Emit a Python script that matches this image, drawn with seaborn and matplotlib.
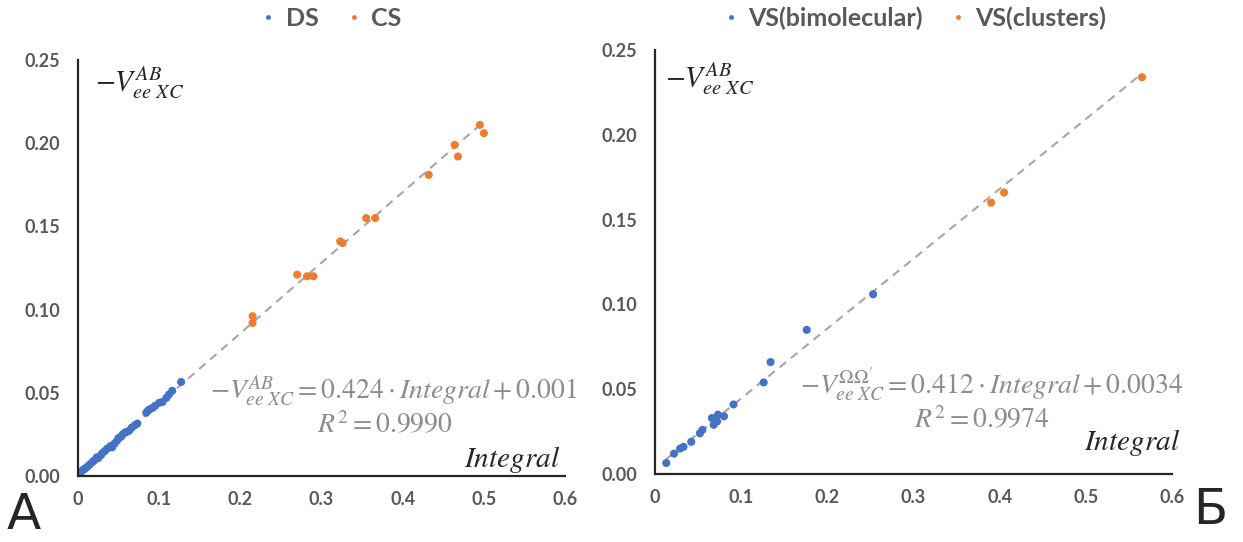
import numpy as np
import pandas as pd
import seaborn as sns
import matplotlib.pyplot as plt
from matplotlib.ticker import FuncFormatter

# Данные
ds_x = [0.002, 0.004, 0.006, 0.008, 0.010, 0.012, 0.015, 0.018, 0.020, 0.023,
        0.025, 0.028, 0.030, 0.033, 0.036, 0.040, 0.042, 0.045, 0.048, 0.050,
        0.053, 0.055, 0.058, 0.060, 0.063, 0.066, 0.070, 0.073, 0.084, 0.086,
        0.088, 0.092, 0.095, 0.100, 0.104, 0.109, 0.112, 0.116, 0.127]
ds_y = [0.0018, 0.0027, 0.0036, 0.0042, 0.0050, 0.0058, 0.0072, 0.0085, 0.0094, 0.0112,
        0.0108, 0.0125, 0.0138, 0.0150, 0.0165, 0.0180, 0.0172, 0.0195, 0.0212, 0.0228,
        0.0236, 0.0250, 0.0262, 0.0265, 0.0272, 0.0290, 0.0305, 0.0315, 0.0380, 0.0392,
        0.0400, 0.0410, 0.0422, 0.0440, 0.0445, 0.0470, 0.0490, 0.0512, 0.0565]

cs_x = [0.215, 0.215, 0.270, 0.282, 0.290, 0.323, 0.326, 0.355, 0.366, 0.432,
        0.464, 0.468, 0.495, 0.500]
cs_y = [0.096, 0.092, 0.121, 0.120, 0.120, 0.141, 0.140, 0.155, 0.155, 0.181,
        0.199, 0.192, 0.211, 0.206]

bim_x = [0.013, 0.022, 0.029, 0.033, 0.042, 0.052, 0.055, 0.066, 0.068, 0.072,
         0.073, 0.080, 0.091, 0.126, 0.134, 0.176, 0.253]
bim_y = [0.0065, 0.012, 0.015, 0.016, 0.019, 0.024, 0.026, 0.033, 0.029, 0.031,
         0.035, 0.034, 0.041, 0.054, 0.066, 0.085, 0.106]

clu_x = [0.390, 0.405, 0.565]
clu_y = [0.160, 0.166, 0.234]

# Коэффициенты линий тренда (из подписей)
fit_a = (0.424, 0.001)
fit_b = (0.412, 0.0034)

blue = '#4472C4'
orange = '#ED7D31'
grey = '#595959'
eq_grey = '#8C8C8C'

sns.set_style('white')
plt.rcParams['font.family'] = ['Lato', 'DejaVu Sans']
plt.rcParams['mathtext.fontset'] = 'stix'

df_a = pd.DataFrame({'x': ds_x + cs_x, 'y': ds_y + cs_y,
                     'g': ['DS'] * len(ds_x) + ['CS'] * len(cs_x)})
df_b = pd.DataFrame({'x': bim_x + clu_x, 'y': bim_y + clu_y,
                     'g': ['VS(bimolecular)'] * len(bim_x) + ['VS(clusters)'] * len(clu_x)})

fig = plt.figure(figsize=(12.43, 5.42), dpi=100)
ax1 = fig.add_axes([0.0628, 0.1218, 0.3918, 0.7675])
ax2 = fig.add_axes([0.527, 0.1255, 0.416, 0.782])


def style_axis(ax):
    ax.set_xlim(0, 0.6)
    ax.set_ylim(0, 0.25)
    ax.set_xticks(np.arange(0, 0.61, 0.1))
    ax.set_yticks(np.arange(0, 0.26, 0.05))
    ax.xaxis.set_major_formatter(FuncFormatter(lambda v, p: '0' if abs(v) < 1e-9 else f'{v:.1f}'))
    ax.yaxis.set_major_formatter(FuncFormatter(lambda v, p: f'{v:.2f}'))
    for s in ['top', 'right']:
        ax.spines[s].set_visible(False)
    for s in ['left', 'bottom']:
        ax.spines[s].set_color('#262626')
        ax.spines[s].set_linewidth(1.6)
    ax.tick_params(length=0, labelsize=13, labelcolor=grey)
    ax.tick_params(axis='x', pad=11)
    ax.tick_params(axis='y', pad=13)
    for lab in ax.get_xticklabels() + ax.get_yticklabels():
        lab.set_fontweight('bold')
    ax.set_xlabel('')
    ax.set_ylabel('')


def add_legend(ax, x, y):
    h, l = ax.get_legend_handles_labels()
    ax.legend(h, l, loc='center', bbox_to_anchor=(x, y), ncol=2, frameon=False,
              markerscale=0.6, handlelength=0.8, handletextpad=0.3, columnspacing=1.0,
              prop={'weight': 'bold', 'size': 18}, labelcolor=grey)


# Панель А
xa = np.array([0, max(cs_x)])
ax1.plot(xa, fit_a[0] * xa + fit_a[1], ls=(0, (4, 3)), color='#A6A6A6', lw=1.5, zorder=1)
sns.scatterplot(data=df_a, x='x', y='y', hue='g', palette=[blue, orange],
                s=34, edgecolor='none', ax=ax1, zorder=2)
style_axis(ax1)
add_legend(ax1, 0.517, 1.10)
ax1.text(0.035, 0.99, r'$-V^{AB}_{ee\ XC}$', transform=ax1.transAxes, fontsize=21,
         va='top', ha='left')
ax1.text(0.99, 0.04, r'$Integral$', transform=ax1.transAxes, fontsize=21,
         va='center', ha='right')
ax1.text(1.025, 0.203, r'$-V^{AB}_{ee\ XC} = 0.424 \cdot Integral + 0.001$',
         transform=ax1.transAxes, fontsize=20, color=eq_grey, va='center', ha='right')
ax1.text(0.63, 0.122, r'$R^2 = 0.9990$', transform=ax1.transAxes, fontsize=20,
         color=eq_grey, va='center', ha='center')

# Панель Б
xb = np.array([min(bim_x), max(clu_x)])
ax2.plot(xb, fit_b[0] * xb + fit_b[1], ls=(0, (4, 3)), color='#A6A6A6', lw=1.5, zorder=1)
sns.scatterplot(data=df_b, x='x', y='y', hue='g', palette=[blue, orange],
                s=34, edgecolor='none', ax=ax2, zorder=2)
style_axis(ax2)
add_legend(ax2, 0.50, 1.075)
ax2.text(0.02, 0.975, r'$-V^{AB}_{ee\ XC}$', transform=ax2.transAxes, fontsize=21,
         va='top', ha='left')
ax2.text(1.015, 0.075, r'$Integral$', transform=ax2.transAxes, fontsize=21,
         va='center', ha='right')
ax2.text(1.021, 0.21, r"$-V^{\Omega\Omega'}_{ee\ XC} = 0.412 \cdot Integral + 0.0034$",
         transform=ax2.transAxes, fontsize=20, color=eq_grey, va='center', ha='right')
ax2.text(0.632, 0.128, r'$R^2 = 0.9974$', transform=ax2.transAxes, fontsize=20,
         color=eq_grey, va='center', ha='center')

# Буквы панелей
fig.text(0.005, 0.005, 'А', fontsize=36, family='DejaVu Sans', va='bottom', ha='left')
fig.text(0.96, 0.015, 'Б', fontsize=36, family='DejaVu Sans', va='bottom', ha='left')

fig.savefig('out.png', dpi=100)
